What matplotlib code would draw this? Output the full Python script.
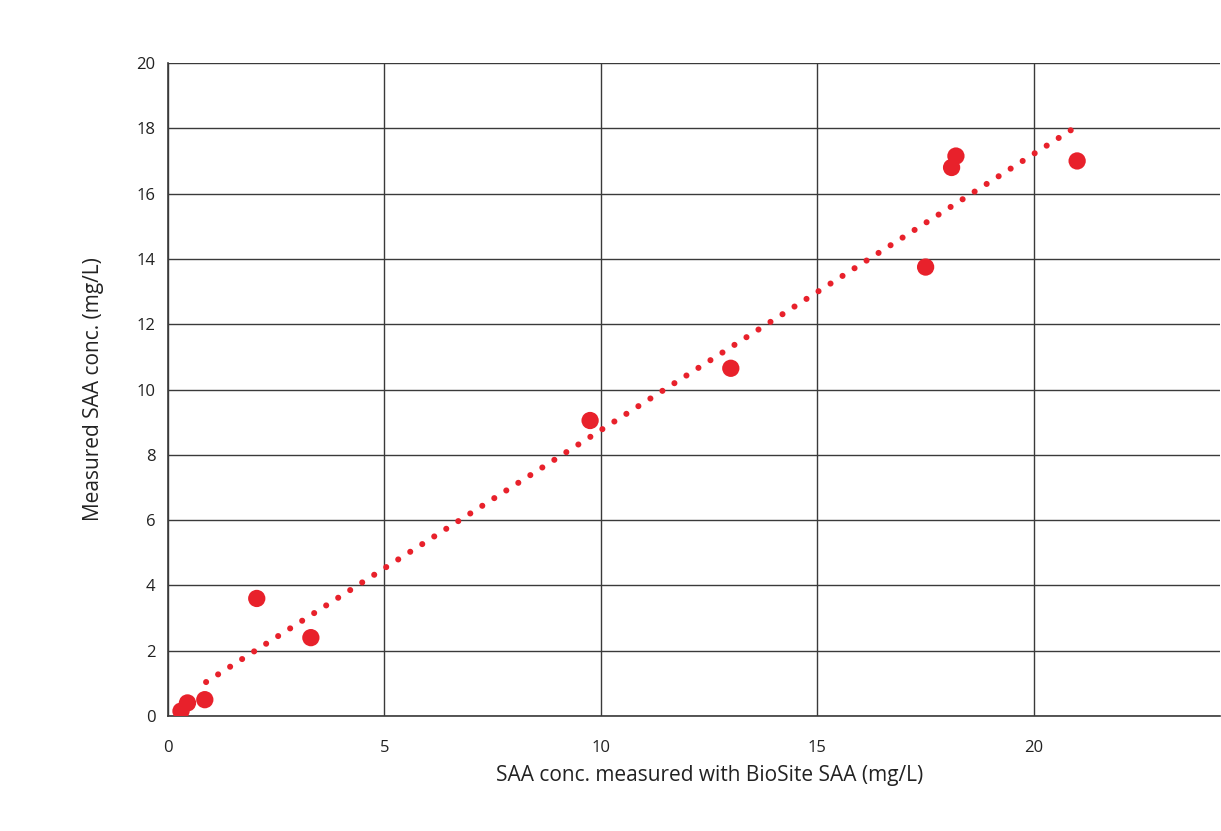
import matplotlib
matplotlib.use("Agg")
import matplotlib.pyplot as plt

plt.rcParams['font.family'] = ['Open Sans', 'DejaVu Sans']

# data
biosite = [0.3, 0.45, 0.85, 2.05, 3.3, 9.75, 13.0, 17.5, 18.1, 18.2, 21.0]
measured = [0.15, 0.4, 0.5, 3.6, 2.4, 9.05, 10.65, 13.75, 16.8, 17.15, 17.0]
trend_x = [0.88, 20.9]
trend_y = [1.04, 17.98]
x_ticks = [0, 5, 10, 15, 20]
y_ticks = [0, 2, 4, 6, 8, 10, 12, 14, 16, 18, 20]

red = '#E8212B'
grid_c = '#3a3a3a'

fig = plt.figure(figsize=(12.21, 8.31), dpi=100)
ax = fig.add_axes([168/1221, 1 - 716/831, (1220 - 168)/1221, (716 - 63)/831])

ax.plot(trend_x, trend_y, color=red, lw=4.4, linestyle=(0, (0.001, 2.33)),
        dash_capstyle='round', zorder=3)
ax.scatter(biosite, measured, s=155, color=red, edgecolors='none', zorder=4)

ax.set_xlim(0, 24.3)
ax.set_ylim(0, 20)
ax.set_xticks(x_ticks)
ax.set_yticks(y_ticks)
ax.grid(True, color=grid_c, lw=1.0)
ax.set_axisbelow(True)
for s in ['right', 'top']:
    ax.spines[s].set_visible(False)
for s in ['left', 'bottom']:
    ax.spines[s].set_color(grid_c)
    ax.spines[s].set_linewidth(1.2)
ax.tick_params(length=0, labelsize=12, colors='#222222')
ax.tick_params(axis='x', pad=17)
ax.tick_params(axis='y', pad=9)
ax.set_xlabel('SAA conc. measured with BioSite SAA (mg/L)', fontsize=15,
              color='#222222', labelpad=7)
ax.set_ylabel('Measured SAA conc. (mg/L)', fontsize=15, color='#222222', labelpad=23)
ax.xaxis.label.set_x((710 - 168) / 1052)

fig.savefig('out.png', dpi=100)
